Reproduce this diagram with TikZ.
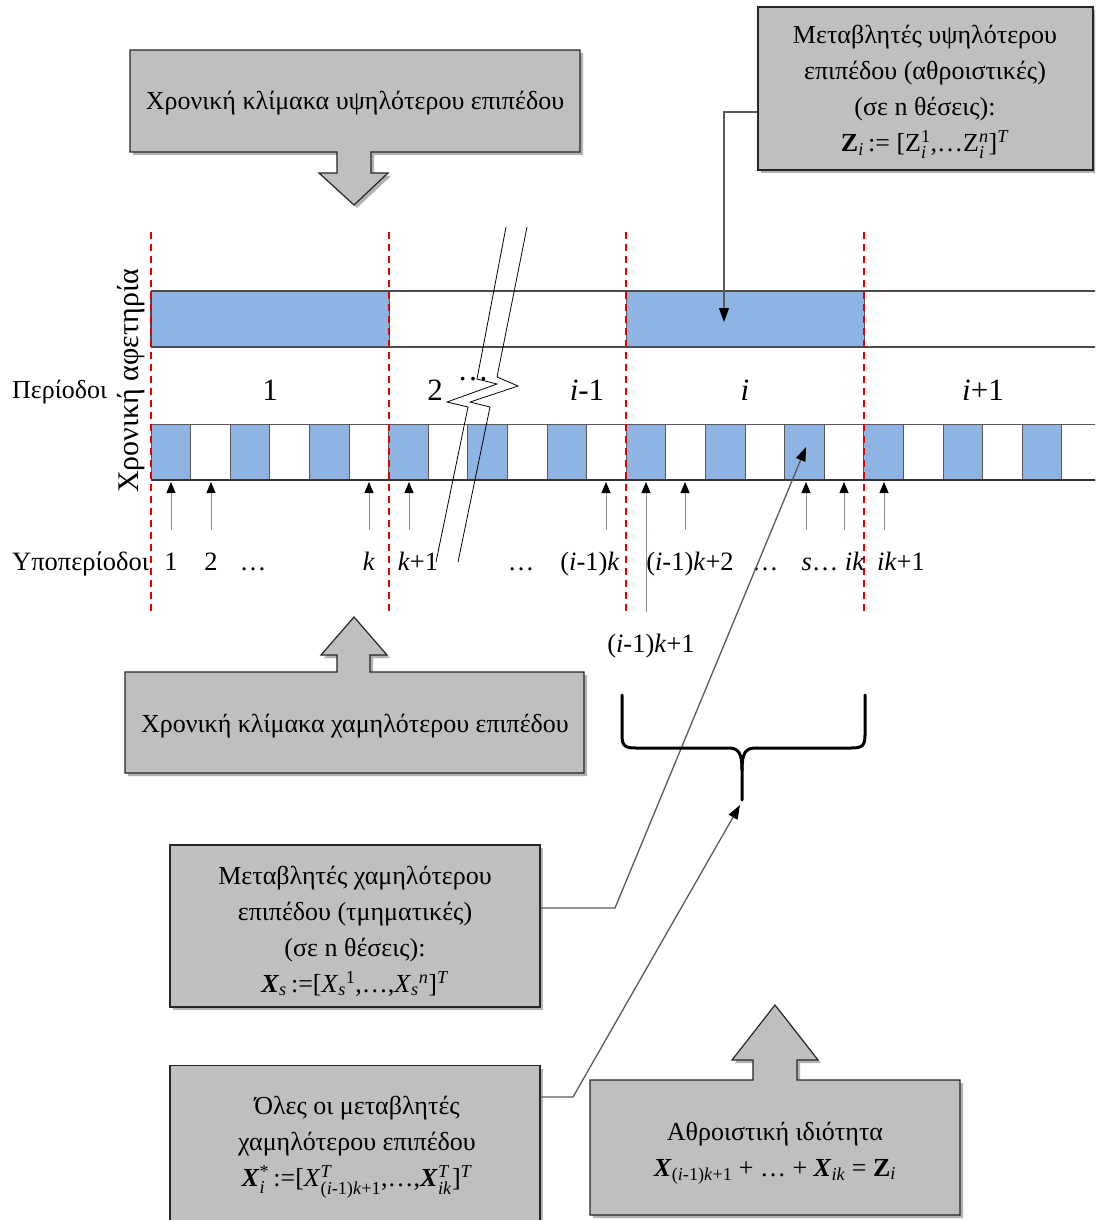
\documentclass[tikz,border=0pt]{standalone}
\usepackage{fontspec}
\usepackage{amsmath}
\setmainfont{Liberation Serif}
\usetikzlibrary{arrows.meta,shadows,calc}
\definecolor{cellblue}{RGB}{142,180,227}
\definecolor{boxgray}{RGB}{191,191,191}
\newcommand\ti[1]{\text{\textit{#1}}}
\newcommand\tb[1]{\text{\textbf{\textit{#1}}}}
\begin{document}
\begin{tikzpicture}[x=1pt,y=-1pt,
  lbl/.style={font=\fontsize{26.5}{30}\selectfont, inner sep=0pt, anchor=base},
  per/.style={font=\fontsize{31}{36}\selectfont, inner sep=0pt, anchor=base},
  boxtxt/.style={font=\fontsize{26}{36}\selectfont, align=center, inner sep=0pt},
  gbox/.style={draw=black!85, line width=1.2pt, fill=boxgray, drop shadow={shadow xshift=3pt,shadow yshift=-3pt,opacity=0.3,fill=black}},
  redline/.style={draw=red!90!black, dash pattern=on 7pt off 5pt, line width=1.5pt},
  cellbox/.style={draw=black!65, line width=0.8pt},
  tick/.style={draw=black!45, line width=0.8pt, -{Triangle[length=11pt,width=9pt,black]}},
  conn/.style={draw=black!65, line width=1.3pt},
  connarrow/.style={conn, -{Triangle[length=14pt,width=10pt,black]}},
  brk/.style={draw=black, line width=0.8pt},
  brace/.style={draw=black, line width=3pt, line cap=round, line join=round},
]
\useasboundingbox (0,0) rectangle (1095,1220);
\begin{scope}
\clip (0,0) rectangle (1095,1220);

% ---------- top bar (periods) ----------
\fill[cellblue] (151,291) rectangle (389,347);
\fill[cellblue] (626,291) rectangle (864,347);
\draw[cellbox] (389,291) -- (389,347) (626,291) -- (626,347) (864,291) -- (864,347);
\draw[draw=black!70, line width=1.2pt] (151,291) -- (1100,291) (151,347) -- (1100,347) (151,291) -- (151,347);
% ---------- bottom bar (subperiods) ----------
\foreach \i in {0,...,23} {
  \pgfmathsetmacro\xa{151+\i*39.6}
  \pgfmathsetmacro\xb{151+(\i+1)*39.6}
  \ifodd\i
    \draw[cellbox] (\xa,424) rectangle (\xb,480);
  \else
    \draw[cellbox, fill=cellblue] (\xa,424) rectangle (\xb,480);
  \fi
}
\draw[draw=black!80, line width=1.2pt] (151,480) -- (1100,480);

% ---------- red dashed separators ----------
\foreach \x in {151,389,626,864} {
  \draw[redline] (\x,232) -- (\x,612);
}

% ---------- labels ----------
\node[rotate=90, font=\fontsize{30}{34}\selectfont, inner sep=0pt] (origin) at (131,381) {Χρονική αφετηρία};
\node[font=\fontsize{26}{30}\selectfont, inner sep=0pt, anchor=base west] (perlbl) at (12,398) {Περίοδοι};
\node[per] (p1) at (270,400) {1};
\node[per] (p2) at (435,400) {2};
\node[per] (pdots) at (473,380) {…};
\node[per] (pim1) at (587,400) {\textit{i}-1};
\node[per] (pi) at (745,400) {\textit{i}};
\node[per] (pip1) at (983,400) {\textit{i}+1};

\node[lbl, anchor=base west] (sublbl) at (12,570) {Υποπερίοδοι};
\node[lbl] (s1) at (171,570) {1};
\node[lbl] (s2) at (211,570) {2};
\node[lbl] (sd1) at (253,570) {…};
\node[lbl] (sk) at (369,570) {\textit{k}};
\node[lbl] (skp1) at (418,570) {\textit{k}+1};
\node[lbl] (sd2) at (521,570) {…};
\node[lbl] (sim1k) at (590,570) {(\textit{i}-1)\textit{k}};
\node[lbl] (sim1k2) at (690,570) {(\textit{i}-1)\textit{k}+2};
\node[lbl] (sd3) at (765,570) {…};
\node[lbl] (ssik) at (833,570) {\textit{s}… \textit{ik}};
\node[lbl] (sikp1) at (901,570) {\textit{ik}+1};
\node[lbl] (sim1k1) at (651,652) {(\textit{i}-1)\textit{k}+1};

% ---------- subperiod ticks ----------
\foreach \x in {171,211,369,409,606,685,806,844,884} {
  \coordinate (tt\x) at (\x,530);
  \coordinate (th\x) at (\x,482);
  \draw[tick] (tt\x) -- (th\x);
}
\coordinate (tt646) at (646,612);
\coordinate (th646) at (646,482);
\draw[tick] (tt646) -- (th646);

% ---------- break symbol ----------
\draw[brk] (506,227) -- (477,379) -- (497,384) -- (447,402) -- (468,407) -- (436,562);
\draw[brk] (527,227) -- (497,377) -- (518,386) -- (470,402) -- (490,407) -- (458,562);

% ---------- top box with down arrow ----------
\draw[gbox] (130,50) -- (580,50) -- (580,152) -- (371,152) -- (371,173) -- (388,173)
  -- (354,205) -- (319,173) -- (337,173) -- (337,152) -- (130,152) -- cycle;
\node[boxtxt] (tophigh) at (355,103) {Χρονική κλίμακα υψηλότερου επιπέδου};

% ---------- bottom box with up arrow ----------
\draw[gbox] (125,672) -- (337,672) -- (337,655) -- (321,655) -- (354,617) -- (387,655)
  -- (370,655) -- (370,672) -- (584,672) -- (584,773) -- (125,773) -- cycle;
\node[boxtxt] (toplow) at (355,726) {Χρονική κλίμακα χαμηλότερου επιπέδου};

% ---------- top right box ----------
\node[gbox, minimum width=335pt, minimum height=163pt, inner sep=0pt] (zbox) at (925.5,88.5) {};
\node[boxtxt] (ztxt) at (925,92)
  {Μεταβλητές υψηλότερου\\ επιπέδου (αθροιστικές)\\ (σε n θέσεις):\\
   \textbf{Z}$_{\ti{i}}$\,:= [Z$_{\ti{i}}^{\text{1}}$,…Z$_{\ti{i}}^{\ti{n}}$]$^{\ti{T}}$};
\coordinate (kz) at (724,112);
\coordinate (tipz) at (724,322);
\draw[connarrow] (zbox.west |- kz) -- (kz) -- (tipz);

% ---------- lower-level variables box ----------
\node[gbox, minimum width=370pt, minimum height=162pt, inner sep=0pt] (xbox) at (355,926) {};
\node[boxtxt] (xtxt) at (355,931)
  {Μεταβλητές χαμηλότερου\\ επιπέδου (τμηματικές)\\ (σε n θέσεις):\\
   \tb{X}$_{\ti{s}}$\,:=[\textit{X}$_{\ti{s}}{}^{\text{1}}$,…,\textit{X}$_{\ti{s}}{}^{\ti{n}}$]$^{\ti{T}}$};
\coordinate (kx) at (615,908);
\coordinate (tipx) at (806,447);
\draw[connarrow] (xbox.east |- kx) -- (kx) -- (tipx);

% ---------- all variables box ----------
\node[gbox, minimum width=370pt, minimum height=167pt, inner sep=0pt] (allbox) at (355,1149) {};
\node[boxtxt] (alltxt) at (357,1147)
  {Όλες οι μεταβλητές\\ χαμηλότερου επιπέδου\\
   \tb{X}$_{\ti{i}}^{\text{*}}$\,:=[\textit{X}$^{\ti{T}}_{\text{(}\ti{i}\text{-1)}\ti{k}\text{+1}}$,…,\tb{X}$^{\ti{T}}_{\ti{ik}}$]$^{\ti{T}}$};

% ---------- brace ----------
\draw[brace] (622,695) -- (622,735) .. controls (622,746) and (625,748) .. (636,748)
  -- (728,748) .. controls (738,748) and (742,752) .. (742,770) -- (742,800);
\draw[brace] (865,695) -- (865,735) .. controls (865,746) and (862,748) .. (851,748)
  -- (756,748) .. controls (746,748) and (742,752) .. (742,770);
\coordinate (bracetip) at (740,805);
\coordinate (ka) at (573,1097);
\draw[connarrow] (allbox.east |- ka) -- (ka) -- (bracetip);

% ---------- aggregation property box ----------
\draw[gbox] (590,1080) -- (753,1080) -- (753,1060) -- (732,1060) -- (775,1005) -- (818,1060)
  -- (797,1060) -- (797,1080) -- (960,1080) -- (960,1215) -- (590,1215) -- cycle;
\node[boxtxt] (aggr) at (775,1153)
  {Αθροιστική ιδιότητα\\
   \tb{X}$_{\text{(}\ti{i}\text{-1)}\ti{k}\text{+1}}$ + … + \tb{X}$_{\ti{ik}}$ = \textbf{Z}$_{\ti{i}}$};
\end{scope}
\end{tikzpicture}
\end{document}
